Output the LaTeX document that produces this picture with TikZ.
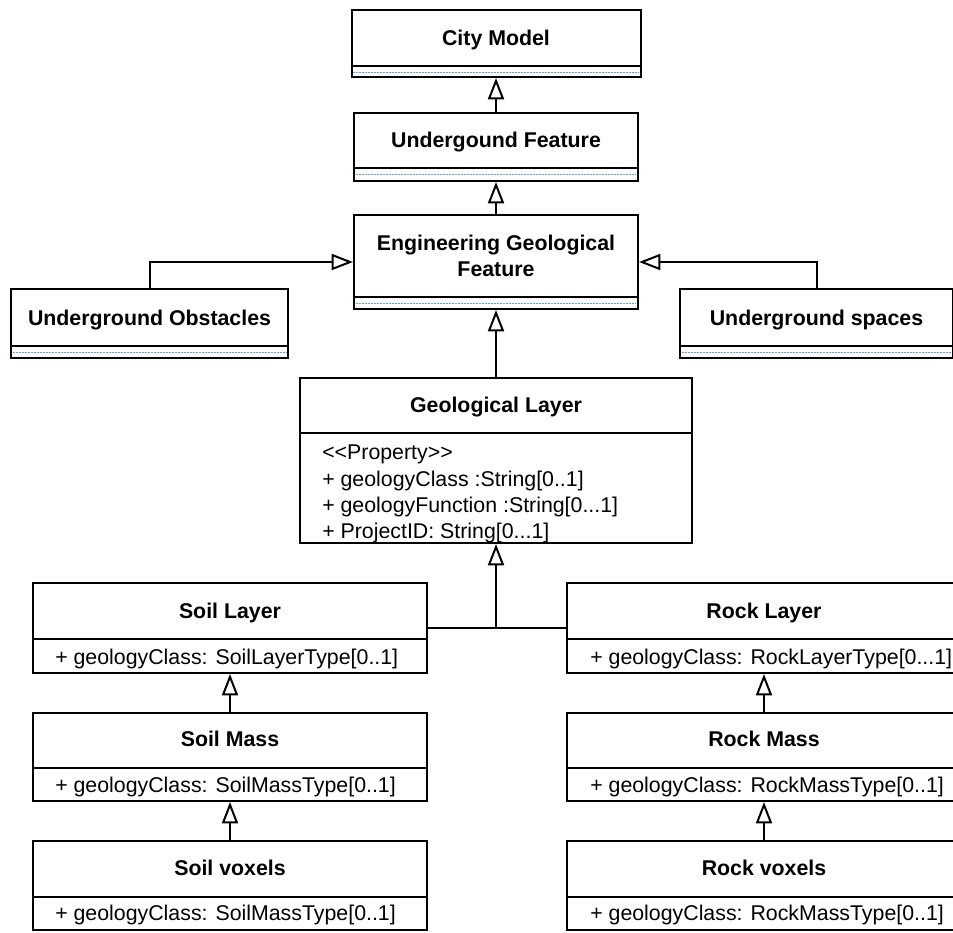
\documentclass[tikz,border=0pt]{standalone}
\usepackage{fontspec}
\setmainfont{Liberation Sans}
\usetikzlibrary{arrows.meta}
\definecolor{dashblue}{RGB}{100,160,225}
\tikzset{
  cls/.style 2 args={draw, line width=1.5pt, minimum width=#1*0.75pt, minimum height=#2*0.75pt, inner sep=0pt},
  ttl/.style={font=\bfseries\fontsize{16}{19.7}\selectfont, inner sep=0pt, anchor=base},
  att/.style={font=\fontsize{16}{19.7}\selectfont, inner sep=0pt, anchor=base west},
  sep/.style={line width=1.5pt},
  empty/.style={draw=dashblue, line width=0.6pt, dash pattern=on 1.5pt off 0.75pt, shorten <=2pt, shorten >=2pt},
  gen/.style={line width=1.5pt, -{Triangle[open, width=12pt, length=16pt]}},
}
\begin{document}
\begin{tikzpicture}[x=0.75pt,y=0.75pt,yscale=-1,xscale=1]
\useasboundingbox (0,0) rectangle (953,932);

%Class: City Model
\node[cls={289}{67}] (city) at (496,43.5) {};
\draw[sep] (city.west |- 0,66) -- (city.east |- 0,66);
\draw[empty] (city.west |- 0,72) -- (city.east |- 0,72);
\node[ttl] (cityT) at (496,45.5) {City Model};
%Class: Undergound Feature
\node[cls={284}{68}] (under) at (496,147) {};
\draw[sep] (under.west |- 0,168) -- (under.east |- 0,168);
\draw[empty] (under.west |- 0,174.5) -- (under.east |- 0,174.5);
\node[ttl] (underT) at (496,147) {Undergound Feature};
%Class: Engineering Geological Feature
\node[cls={284}{94}] (eng) at (496,262) {};
\draw[sep] (eng.west |- 0,297) -- (eng.east |- 0,297);
\draw[empty] (eng.west |- 0,303) -- (eng.east |- 0,303);
\node[ttl, anchor=center, align=center] (engT) at (496,256) {Engineering Geological\\Feature};
%Class: Underground Obstacles
\node[cls={277}{69}] (obst) at (149.5,323.5) {};
\draw[sep] (obst.west |- 0,346) -- (obst.east |- 0,346);
\draw[empty] (obst.west |- 0,352) -- (obst.east |- 0,352);
\node[ttl] (obstT) at (149.5,325) {Underground Obstacles};
%Class: Underground spaces
\node[cls={273}{69}] (spaces) at (816.5,323.5) {};
\draw[sep] (spaces.west |- 0,346) -- (spaces.east |- 0,346);
\draw[empty] (spaces.west |- 0,352) -- (spaces.east |- 0,352);
\node[ttl] (spacesT) at (816.5,325) {Underground spaces};
%Class: Geological Layer
\node[cls={392}{165}] (geo) at (496,460.5) {};
\draw[sep] (geo.west |- 0,433) -- (geo.east |- 0,433);
\node[ttl] (geoT) at (496,412) {Geological Layer};
\node[att, anchor=north west, align=left] (geoA) at (322,445) {{<}{<}Property{>}{>}\\+ geologyClass :String[0..1]\\+ geologyFunction :String[0...1]\\+ ProjectID: String[0...1]};
%Class: Soil Layer / Soil Mass / Soil voxels
\node[cls={394}{90}] (soilL) at (230,628) {};
\draw[sep] (soilL.west |- 0,639) -- (soilL.east |- 0,639);
\node[ttl] (soilLT) at (230,618) {Soil Layer};
\node[att] (soilLA) at (55,664) {+ geologyClass: SoilLayerType[0..1]};
\node[cls={394}{88}] (soilM) at (230,757) {};
\draw[sep] (soilM.west |- 0,768) -- (soilM.east |- 0,768);
\node[ttl] (soilMT) at (230,746) {Soil Mass};
\node[att] (soilMA) at (55,792) {+ geologyClass: SoilMassType[0..1]};
\node[cls={394}{89}] (soilV) at (230,885.5) {};
\draw[sep] (soilV.west |- 0,897) -- (soilV.east |- 0,897);
\node[ttl] (soilVT) at (230,875) {Soil voxels};
\node[att] (soilVA) at (55,920) {+ geologyClass: SoilMassType[0..1]};
%Class: Rock Layer / Rock Mass / Rock voxels
\node[cls={394}{90}] (rockL) at (764,628) {};
\draw[sep] (rockL.west |- 0,639) -- (rockL.east |- 0,639);
\node[ttl] (rockLT) at (764,618) {Rock Layer};
\node[att] (rockLA) at (590,664) {+ geologyClass: RockLayerType[0...1]};
\node[cls={394}{88}] (rockM) at (764,757) {};
\draw[sep] (rockM.west |- 0,768) -- (rockM.east |- 0,768);
\node[ttl] (rockMT) at (764,746) {Rock Mass};
\node[att] (rockMA) at (590,792) {+ geologyClass: RockMassType[0..1]};
\node[cls={394}{89}] (rockV) at (764,885.5) {};
\draw[sep] (rockV.west |- 0,897) -- (rockV.east |- 0,897);
\node[ttl] (rockVT) at (764,875) {Rock voxels};
\node[att] (rockVA) at (590,920) {+ geologyClass: RockMassType[0..1]};

%Generalizations
\draw[gen] (under.north) -- (city.south);
\draw[gen] (eng.north) -- (under.south);
\draw[gen] (geo.north) -- (eng.south);
\draw[gen] (obst.north) |- (eng.west);
\draw[gen] (spaces.north) |- (eng.east);
\draw[sep] (soilL.east) -- (rockL.west);
\draw[gen] (soilL.east -| geo.south) -- (geo.south);
\draw[gen] (soilM.north) -- (soilL.south);
\draw[gen] (soilV.north) -- (soilM.south);
\draw[gen] (rockM.north) -- (rockL.south);
\draw[gen] (rockV.north) -- (rockM.south);

\end{tikzpicture}
\end{document}
